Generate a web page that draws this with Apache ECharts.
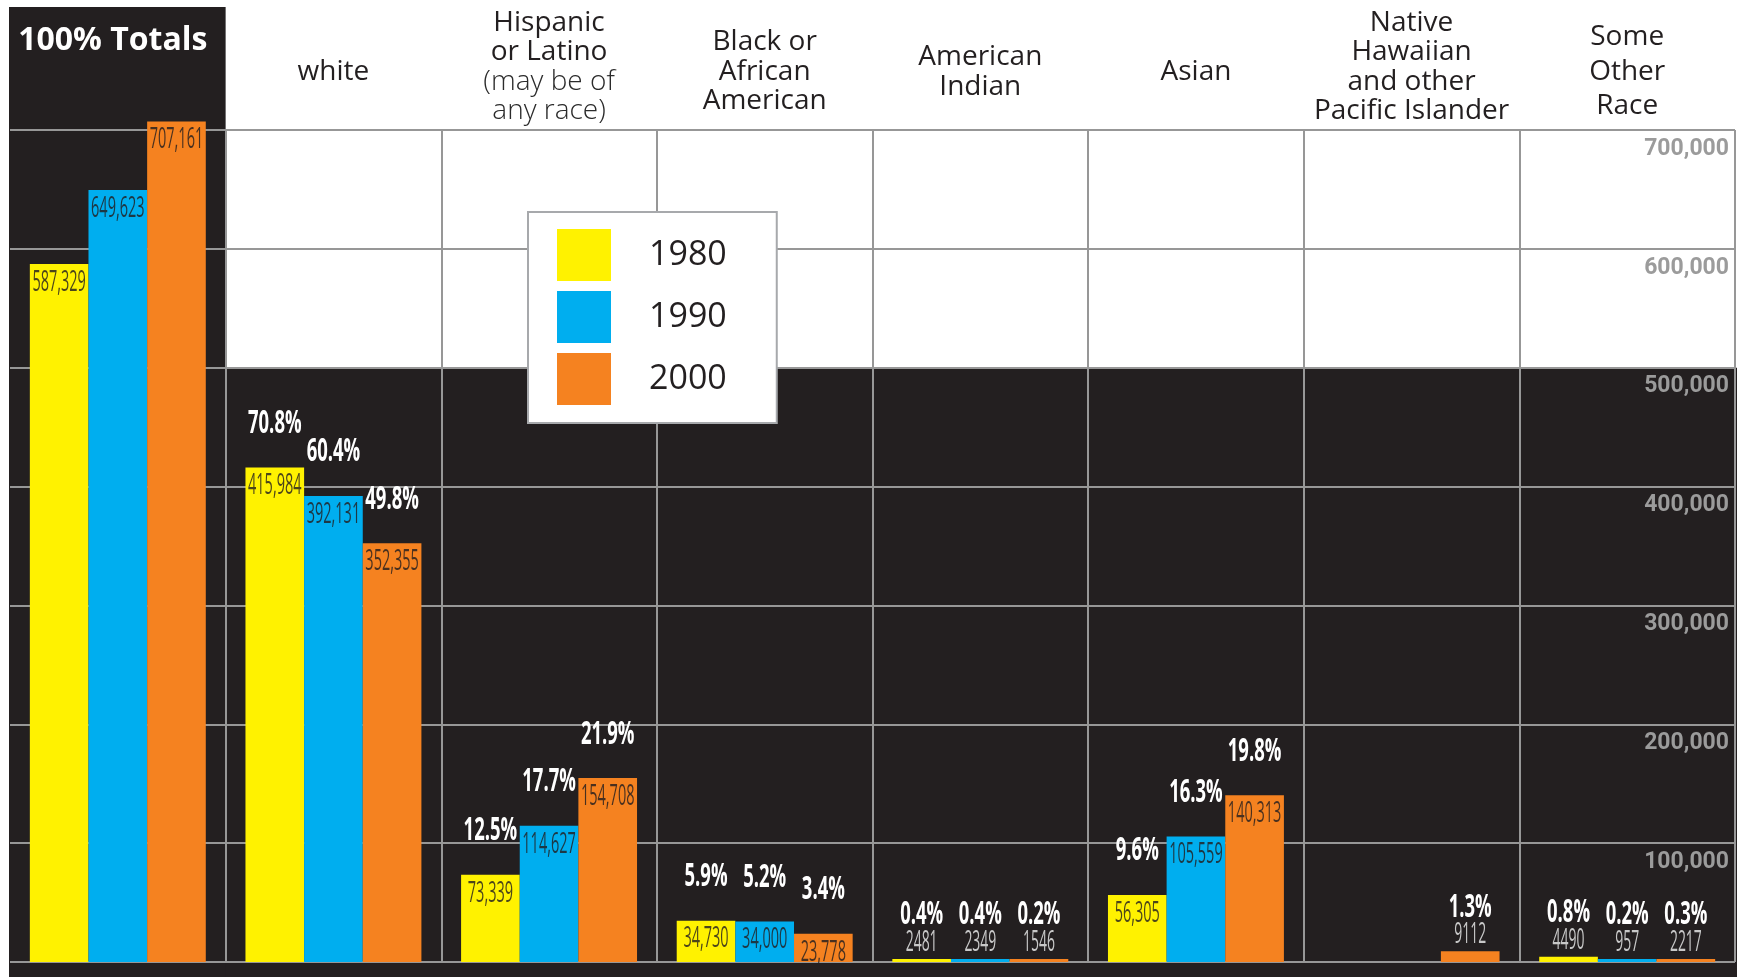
<!DOCTYPE html>
<html>
<head>
<meta charset="utf-8">
<script src="https://cdn.jsdelivr.net/npm/echarts@6/dist/echarts.min.js"></script>
<style>
html, body { margin: 0; padding: 0; background: #fff; }
#chart { width: 1739px; height: 977px; }
</style>
</head>
<body>
<div id="chart"></div>
<script>
// categories (header labels), years and values
const categories = [
  '100% Totals',
  'white',
  'Hispanic\nor Latino\n(may be of\nany race)',
  'Black or\nAfrican\nAmerican',
  'American\nIndian',
  'Asian',
  'Native\nHawaiian\nand other\nPacific Islander',
  'Some\nOther\nRace'
];
const years = ['1980', '1990', '2000'];
const pop1980 = [587329, 415984, 73339, 34730, 2481, 56305, null, 4490];
const pop1990 = [649623, 392131, 114627, 34000, 2349, 105559, null, 957];
const pop2000 = [707161, 352355, 154708, 23778, 1546, 140313, 9112, 2217];
const pct1980 = [null, 70.8, 12.5, 5.9, 0.4, 9.6, null, 0.8];
const pct1990 = [null, 60.4, 17.7, 5.2, 0.4, 16.3, null, 0.2];
const pct2000 = [null, 49.8, 21.9, 3.4, 0.2, 19.8, 1.3, 0.3];
const yTicks = [0, 100000, 200000, 300000, 400000, 500000, 600000, 700000];

const pops = [pop1980, pop1990, pop2000];
const pcts = [pct1980, pct1990, pct2000];
const colors = ['#fff200', '#00aeef', '#f58220'];
const DARK = '#231f20';
const LINE = '#979797';
const BAR_RATIO = 0.272;   // bar width as share of the band
const MIN_BAR = 3;
const INSIDE_MIN = 15000;  // bars taller than this carry their number inside

const fmtVal = v => v >= 10000 ? v.toLocaleString('en-US') : String(v);

const labelStyles = {
  inside: { font: '29px "Open Sans"', fill: 'rgba(35,31,32,0.82)', sx: 0.5 },
  outside: { font: '29px "Open Sans"', fill: '#c8c8c8', sx: 0.48 },
  pct: { font: 'bold 33px "Open Sans"', fill: '#ffffff', sx: 0.56 }
};

function txt(x, y, text, st) {
  return {
    type: 'text', x: x, y: y, scaleX: st.sx,
    style: { text: text, font: st.font, fill: st.fill, align: 'center', verticalAlign: 'middle' }
  };
}

function renderLabels(params, api) {
  const i = api.value(0), v = api.value(1), j = api.value(2);
  const pt = api.coord([i, v]);
  const zero = api.coord([i, 0])[1];
  const band = api.size([1, 0])[0];
  const x = pt[0] + (j - 1) * band * BAR_RATIO;
  const top = Math.min(pt[1], zero - MIN_BAR);
  const kids = [];
  if (v >= INSIDE_MIN) {
    kids.push(txt(x, top + 18.5, fmtVal(v), labelStyles.inside));
  } else {
    kids.push(txt(x, top - 16, fmtVal(v), labelStyles.outside));
  }
  const p = pcts[j][i];
  if (p != null) kids.push(txt(x, top - 44, p.toFixed(1) + '%', labelStyles.pct));
  return { type: 'group', children: kids };
}

const labelData = [];
pops.forEach((arr, j) => arr.forEach((v, i) => {
  if (v != null) labelData.push([i, v, j]);
}));

function headerFmt(name, idx) {
  if (idx === 0) return '{tot|' + name + '}\n{sp| }';
  let light = false;
  const lines = name.split('\n');
  let out = lines.map(line => {
    if (line.indexOf('(') >= 0) light = true;
    const style = light ? 'lt' : (idx === 7 ? 'n2' : 'n');
    const s = '{' + style + '|' + line + '}';
    if (line.indexOf(')') >= 0) light = false;
    return s;
  }).join('\n');
  if (lines.length === 4) out += '\n{sp4| }';
  return out;
}

const chart = echarts.init(document.getElementById('chart'));

const vColors = categories.map(() => LINE).concat([LINE]);
vColors[0] = 'rgba(0,0,0,0)';

const option = {
  animation: false,
  color: colors,
  textStyle: { fontFamily: 'Open Sans' },
  grid: { left: 10, right: 4, top: 130, bottom: 15, outerBoundsMode: 'none' },
  legend: {
    data: years,
    orient: 'vertical',
    left: 528,
    top: 212,
    icon: 'rect',
    itemWidth: 54,
    itemHeight: 52,
    itemGap: 10,
    padding: [17, 50, 18, 29],
    backgroundColor: '#ffffff',
    borderColor: '#a7a9ac',
    borderWidth: 2,
    selectedMode: false,
    formatter: name => '{t|' + name + '}',
    textStyle: {
      rich: { t: { fontFamily: 'Open Sans', fontSize: 34, color: DARK, padding: [0, 0, 0, 33] } }
    },
    z: 10
  },
  xAxis: {
    type: 'category',
    position: 'top',
    data: categories,
    z: 1,
    axisLine: { show: false },
    axisTick: { show: false },
    splitLine: { show: true, interval: 0, lineStyle: { color: vColors, width: 2 } },
    axisLabel: {
      interval: 0,
      margin: 58,
      verticalAlign: 'middle',
      formatter: headerFmt,
      rich: {
        tot: { fontFamily: 'Open Sans', fontWeight: 'bold', fontSize: 32, color: '#ffffff', lineHeight: 36, padding: [0, 10, 0, 0] },
        sp: { fontSize: 10, lineHeight: 62 },
        sp4: { fontSize: 6, lineHeight: 10 },
        n: { fontFamily: 'Open Sans', fontSize: 28, color: DARK, lineHeight: 29.5 },
        n2: { fontFamily: 'Open Sans', fontSize: 28, color: DARK, lineHeight: 34.5 },
        lt: { fontFamily: 'Open Sans', fontWeight: 300, fontSize: 28, color: '#2b2b2b', lineHeight: 29.5 }
      }
    }
  },
  yAxis: {
    type: 'value',
    position: 'right',
    min: yTicks[0],
    max: yTicks[yTicks.length - 1],
    interval: yTicks[1] - yTicks[0],
    z: 1,
    axisLine: { show: false },
    axisTick: { show: false },
    splitLine: { lineStyle: { color: LINE, width: 2 } },
    axisLabel: {
      inside: true,
      align: 'right',
      verticalAlign: 'top',
      lineHeight: 38,
      margin: 6,
      fontFamily: 'Roboto',
      fontWeight: 'bold',
      fontSize: 23,
      color: '#9b9b9b',
      formatter: v => v === 0 ? '' : v.toLocaleString('en-US')
    }
  },
  series: years.map((name, j) => ({
    name: name,
    type: 'bar',
    data: pops[j],
    barWidth: (BAR_RATIO * 100) + '%',
    barGap: '0%',
    barMinHeight: MIN_BAR,
    clip: false,
    silent: true,
    itemStyle: { color: colors[j] }
  })).concat([{
    type: 'custom',
    name: 'labels',
    silent: true,
    clip: false,
    z: 5,
    dimensions: ['cat', 'val', 'year'],
    encode: { x: 'cat', y: 'val' },
    data: labelData,
    renderItem: renderLabels
  }])
};

chart.setOption(option);

// dark panels behind the plot, placed from the axes
const y500 = chart.convertToPixel({ yAxisIndex: 0 }, 500000);
const xa = chart.convertToPixel({ xAxisIndex: 0 }, 0);
const xb = chart.convertToPixel({ xAxisIndex: 0 }, 1);
const split = (xa + xb) / 2;
chart.setOption({
  graphic: [
    { type: 'rect', z: -1, silent: true, shape: { x: split - 1, y: y500, width: 1738 - split, height: 977 - y500 }, style: { fill: DARK } },
    { type: 'rect', z: -1, silent: true, shape: { x: 9, y: 7, width: split - 9, height: 977 - 7 }, style: { fill: DARK } }
  ]
});
</script>
</body>
</html>
